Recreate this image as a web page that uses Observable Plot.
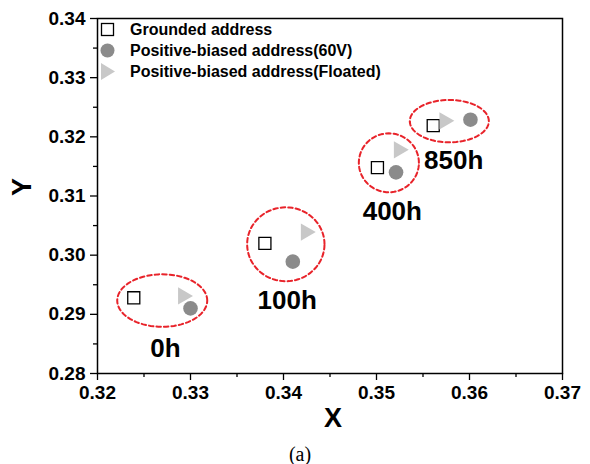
<!DOCTYPE html>
<html><head><meta charset="utf-8">
<script src="https://cdn.jsdelivr.net/npm/d3@7"></script>
<script src="https://cdn.jsdelivr.net/npm/@observablehq/plot@0.6"></script>
<style>
body{margin:0;background:white;}
#wrap{position:relative;width:590px;height:464px;font-family:"Liberation Sans",Arial,sans-serif;}
#legend{position:absolute;left:99px;top:19px;font-weight:bold;font-size:16px;}
#legend .row{display:flex;align-items:center;height:21px;}
#legend svg{width:20px;height:21px;margin-right:11px;}
#caption{position:absolute;left:0;top:443px;width:600px;text-align:center;font-family:"Liberation Serif","Times New Roman",serif;font-size:20px;line-height:22px;}
</style></head>
<body><div id="wrap"><div id="chart"></div>
<div id="legend"></div>
<div id="caption">(a)</div></div>
<script>
// Data
const groups = ["0h", "100h", "400h", "850h"];
const groundedX = [0.3239, 0.3380, 0.3501, 0.3561];
const groundedY = [0.2928, 0.3020, 0.3148, 0.3219];
const biasedX   = [0.3300, 0.3410, 0.3521, 0.3601];
const biasedY   = [0.2910, 0.2989, 0.3140, 0.3229];
const floatedX  = [0.3292, 0.3424, 0.3524, 0.3573];
const floatedY  = [0.2931, 0.3039, 0.3178, 0.3227];
// Ellipse annotations (center + radii, data units)
const ellCX = [0.32696, 0.34025, 0.35133, 0.35783];
const ellCY = [0.29233, 0.30184, 0.31561, 0.32265];
const ellRX = [0.00484, 0.00416, 0.00323, 0.00425];
const ellRY = [0.00444, 0.00625, 0.00498, 0.00358];
// Label positions
const labelX = [0.3273, 0.3404, 0.3517, 0.3583];
const labelY = [0.2842, 0.2923, 0.3074, 0.3160];
// Ticks
const xMajor = [0.32, 0.33, 0.34, 0.35, 0.36, 0.37];
const xMinor = [0.325, 0.335, 0.345, 0.355, 0.365];
const yMajor = [0.28, 0.29, 0.30, 0.31, 0.32, 0.33, 0.34];
const yMinor = [0.285, 0.295, 0.305, 0.315, 0.325, 0.335];
const seriesNames = ["Grounded address", "Positive-biased address(60V)", "Positive-biased address(Floated)"];

const idx = groups.map((_, i) => i);
const ellPts = [];
idx.forEach(i => {
  for (let k = 0; k <= 72; k++) {
    const t = k / 72 * 2 * Math.PI;
    ellPts.push({g: groups[i], x: ellCX[i] + ellRX[i] * Math.cos(t), y: ellCY[i] + ellRY[i] * Math.sin(t)});
  }
});

const chart = Plot.plot({
  width: 590, height: 432,
  marginLeft: 97, marginRight: 28, marginTop: 18, marginBottom: 59,
  x: {domain: [0.32, 0.37]},
  y: {domain: [0.28, 0.34]},
  style: {fontFamily: "'Liberation Sans', Arial, sans-serif", fontWeight: "bold", fontSize: "19px", color: "black", background: "white"},
  marks: [
    Plot.line(ellPts, {x: "x", y: "y", z: "g", stroke: "#e8232a", strokeWidth: 2, strokeDasharray: "4.5,3", curve: "linear-closed"}),
    Plot.dot(idx, {x: i => groundedX[i], y: i => groundedY[i], symbol: "square", r: 6.8, stroke: "black", strokeWidth: 1.3, fill: "white"}),
    Plot.dot(idx, {x: i => floatedX[i], y: i => floatedY[i], symbol: "triangle", rotate: 90, r: 6.4, fill: "#c8c8c8", stroke: "none"}),
    Plot.dot(idx, {x: i => biasedX[i], y: i => biasedY[i], symbol: "circle", r: 7.3, fill: "#8b8b8b", stroke: "none"}),
    Plot.text(idx, {x: i => labelX[i], y: i => labelY[i], text: i => groups[i], fontSize: 26, fontWeight: "bold", fill: "black"}),
    Plot.axisX(xMajor, {tickSize: 7, tickPadding: 5, tickFormat: d => d.toFixed(2), label: null, fontSize: 19, fontWeight: "bold", strokeWidth: 1.3}),
    Plot.axisX(xMinor, {tickSize: 4, tickFormat: () => "", label: null, strokeWidth: 1.3}),
    Plot.axisY(yMajor, {tickSize: 7, tickPadding: 5, tickFormat: d => d.toFixed(2), label: null, fontSize: 19, fontWeight: "bold", strokeWidth: 1.3}),
    Plot.axisY(yMinor, {tickSize: 4, tickFormat: () => "", label: null, strokeWidth: 1.3}),
    Plot.frame({stroke: "black", strokeWidth: 1.5}),
    Plot.text(["Y"], {frameAnchor: "left", dx: -75, rotate: -90, fontSize: 27, fontWeight: "bold"}),
    Plot.text(["X"], {frameAnchor: "bottom", dy: 53, dx: 3, fontSize: 27, fontWeight: "bold"})
  ]
});
document.getElementById("chart").appendChild(chart);

// Legend
const symSvg = [
  '<svg viewBox="0 0 20 21"><rect x="2.5" y="4.5" width="12" height="12" fill="white" stroke="black" stroke-width="1.3"/></svg>',
  '<svg viewBox="0 0 20 21"><circle cx="8.5" cy="10.5" r="7" fill="#8b8b8b"/></svg>',
  '<svg viewBox="0 0 20 21"><path d="M2,2 L16,10.5 L2,19 Z" fill="#c8c8c8"/></svg>'
];
document.getElementById("legend").innerHTML = seriesNames.map((n, i) =>
  `<div class="row">${symSvg[i]}<span>${n}</span></div>`).join("");
</script></body></html>
